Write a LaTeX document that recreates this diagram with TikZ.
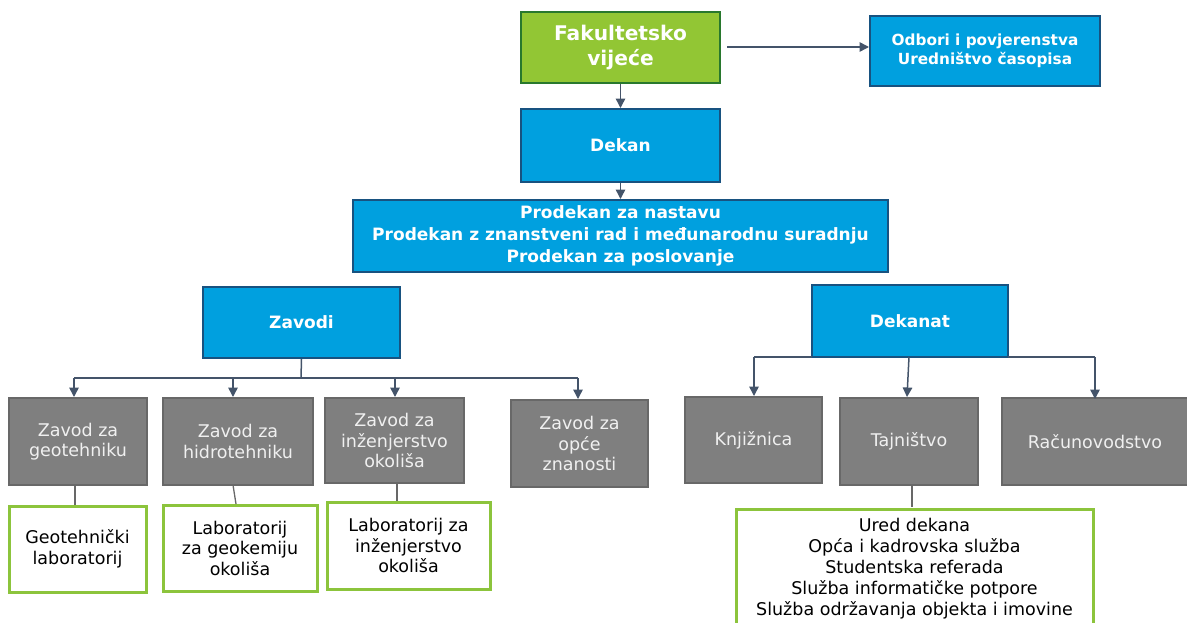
\documentclass[tikz,border=0pt]{standalone}
\usepackage{fontspec}
\setmainfont{DejaVu Sans}
\usetikzlibrary{arrows.meta}
\definecolor{blueFill}{RGB}{0,160,223}
\definecolor{blueEdge}{RGB}{24,82,128}
\definecolor{greenFill}{RGB}{146,198,52}
\definecolor{greenEdge}{RGB}{40,120,45}
\definecolor{greenLine}{RGB}{140,196,60}
\definecolor{grayFill}{RGB}{127,127,127}
\definecolor{grayEdge}{RGB}{104,104,104}
\definecolor{linkCol}{RGB}{68,84,106}
\tikzset{
  box/.style={draw, line width=2pt, align=center, inner sep=0pt},
  council/.style={box, fill=greenFill, draw=greenEdge, text=white,
    font=\fontsize{20.2}{25}\selectfont\bfseries},
  office/.style={box, fill=blueFill, draw=blueEdge, text=white,
    font=\fontsize{17}{22}\selectfont\bfseries},
  unit/.style={box, fill=grayFill, draw=grayEdge, line width=1.4pt, text=white!94!black,
    font=\fontsize{17.5}{20.5}\selectfont},
  lab/.style={box, fill=white, draw=greenLine, line width=3pt, text=black,
    font=\fontsize{17.5}{20.5}\selectfont},
  link/.style={draw=linkCol, line width=1.5pt, -{Triangle[width=9.5pt,length=9.5pt]}},
  plain/.style={draw=grayEdge, line width=1.3pt}
}
\begin{document}
\begin{tikzpicture}[x=1pt,y=-1pt]
\useasboundingbox (0,0) rectangle (1187,622);
\clip (0,0) rectangle (1187,622);

% top of the hierarchy
\node[council, minimum width=199pt, minimum height=71pt] (fv) at (620.5,47.5) {Fakultetsko\\vijeće};
\node[office, minimum width=230pt, minimum height=70pt, font=\fontsize{15.3}{19.5}\selectfont\bfseries] (ob) at (985,51) {Odbori i povjerenstva\\Uredništvo časopisa};
\node[office, minimum width=199pt, minimum height=73pt] (dk) at (620.5,145.5) {Dekan};
\node[office, minimum width=535pt, minimum height=72pt] (pd) at (620.5,236) {Prodekan za nastavu\\Prodekan z znanstveni rad i međunarodnu suradnju\\Prodekan za poslovanje};

\coordinate (obIn) at (727,47);
\draw[link] (obIn) -- (ob.west |- obIn);
\draw[link] (fv.south) -- (dk.north);
\draw[link] (dk.south) -- (pd.north);

% second level
\node[office, minimum width=197pt, minimum height=71pt] (zv) at (301.5,322.5) {Zavodi};
\node[office, minimum width=196pt, minimum height=72pt] (dn) at (910,321) {Dekanat};

% institutes
\node[unit, minimum width=138pt, minimum height=87pt] (z1) at (78,441.5) {Zavod za\\geotehniku};
\node[unit, minimum width=150pt, minimum height=87pt] (z2) at (238,441.5) {Zavod za\\hidrotehniku};
\node[unit, minimum width=139pt, minimum height=85pt] (z3) at (394.5,440.5) {Zavod za\\inženjerstvo\\okoliša};
\node[unit, minimum width=137pt, minimum height=87pt] (z4) at (579.5,443.5) {Zavod za\\opće\\znanosti};

% dean's office units
\node[unit, minimum width=137pt, minimum height=86pt] (d1) at (753.5,440) {Knjižnica};
\node[unit, minimum width=138pt, minimum height=87pt] (d2) at (909,441.5) {Tajništvo};
\node[unit, minimum width=186pt, minimum height=87pt] (d3) at (1095,441.5) {Računovodstvo};

% laboratories and services
\node[lab, minimum width=137pt, minimum height=86pt] (l1) at (77.5,549) {Geotehnički\\laboratorij};
\node[lab, minimum width=154pt, minimum height=86pt] (l2) at (240,548) {Laboratorij\\za geokemiju\\okoliša};
\node[lab, minimum width=163pt, minimum height=87pt] (l3) at (408.5,545.5) {Laboratorij za\\inženjerstvo\\okoliša};
\node[lab, minimum width=357pt, minimum height=118pt, font=\fontsize{17.5}{21}\selectfont] (sv) at (914.5,568.5) {Ured dekana\\Opća i kadrovska služba\\Studentska referada\\Služba informatičke potpore\\Služba održavanja objekta i imovine};

% Zavodi branches
\coordinate (zbus) at (301,378);
\draw[linkCol, line width=1.5pt] (zv.south) -- (zbus);
\draw[linkCol, line width=1.5pt] (74,378) -- (578,378);
\draw[link] (74,378) -- (74,397);
\draw[link] (233,378) -- (233,397);
\draw[link] (395,378) -- (395,397);
\draw[link] (578,378) -- (578,399);

% Dekanat branches
\draw[linkCol, line width=1.5pt] (754,357) -- (812,357);
\draw[linkCol, line width=1.5pt] (1008,357) -- (1095,357);
\draw[link] (754,357) -- (754,396);
\draw[link] (909,357) -- (907,397);
\draw[link] (1095,357) -- (1095,399);

% plain ties to the laboratories
\draw[plain] (75,485) -- (75,505);
\draw[plain] (233,485) -- (236,504);
\draw[plain] (397,483) -- (397,501);
\draw[plain] (912,485) -- (912,507);
\end{tikzpicture}
\end{document}
